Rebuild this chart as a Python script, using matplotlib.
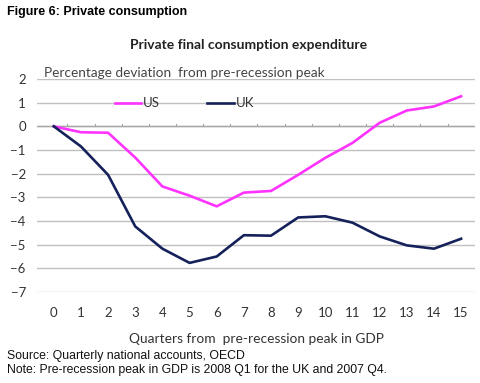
import numpy as np
import matplotlib.pyplot as plt

plt.rcParams["font.family"] = "Lato"

quarters = list(range(16))
us = [0, -0.25, -0.27, -1.32, -2.54, -2.93, -3.38, -2.8, -2.73, -2.05,
      -1.33, -0.7, 0.15, 0.67, 0.84, 1.27]
uk = [0, -0.85, -2.05, -4.23, -5.17, -5.77, -5.5, -4.6, -4.62, -3.85,
      -3.8, -4.07, -4.65, -5.03, -5.17, -4.75]
yticks = list(range(-7, 3))

fig = plt.figure(figsize=(4.8, 3.83), dpi=100)
ax = fig.add_axes([0.077, 0.2376, 0.913, 0.5561])

for yv in yticks:
    ax.axhline(yv, color='#c0c0c0', lw=1.0, zorder=0)
ax.axhline(0, color='#a6a6a6', lw=1.0, zorder=1)

ax.plot(quarters, us, color='#ff33ff', lw=1.9, label='US', zorder=3)
ax.plot(quarters, uk, color='#14215a', lw=1.9, label='UK', zorder=3)

# small tick marks between categories along the zero line
for xq in np.arange(0.5, 15.5, 1):
    ax.plot([xq, xq], [0, 0.1], color='#a6a6a6', lw=0.8, zorder=1)

ax.set_xlim(-0.62, 15.52)
ax.set_ylim(-7, 2)
ax.set_yticks(yticks)
ax.set_xticks(quarters)
ax.tick_params(length=0, labelsize=9.5, colors='#333333')
ax.tick_params(axis='y', pad=8)
ax.tick_params(axis='x', pad=11)
for s in ax.spines.values():
    s.set_visible(False)

ax.set_xlabel('Quarters from  pre-recession peak in GDP', fontsize=9.9,
              color='#333333', labelpad=10)
ax.text(0.015, 1.0, 'Percentage deviation  from pre-recession peak',
        transform=ax.transAxes, fontsize=9.8, color='#444444', va='bottom')

ax.legend(loc='upper left', bbox_to_anchor=(0.15, 0.97), ncol=2, frameon=False,
          fontsize=9.5, handlelength=2.0, handletextpad=0.15, columnspacing=3.6,
          labelcolor='#333333')

fig.text(0.517, 0.882, 'Private final consumption expenditure', ha='center',
         va='center', fontsize=10, fontweight='bold', color='#222222')
fig.text(0.014, 0.968, 'Figure 6: Private consumption', ha='left', va='center',
         fontsize=9, fontweight='bold', family='Liberation Sans')
fig.text(0.014, 0.07, 'Source: Quarterly national accounts, OECD', ha='left',
         va='center', fontsize=8.8, family='Liberation Sans', color='#111111')
fig.text(0.014, 0.035, 'Note: Pre-recession peak in GDP is 2008 Q1 for the UK and 2007 Q4.',
         ha='left', va='center', fontsize=8.8, family='Liberation Sans', color='#111111')

fig.savefig('out.png', dpi=100)
